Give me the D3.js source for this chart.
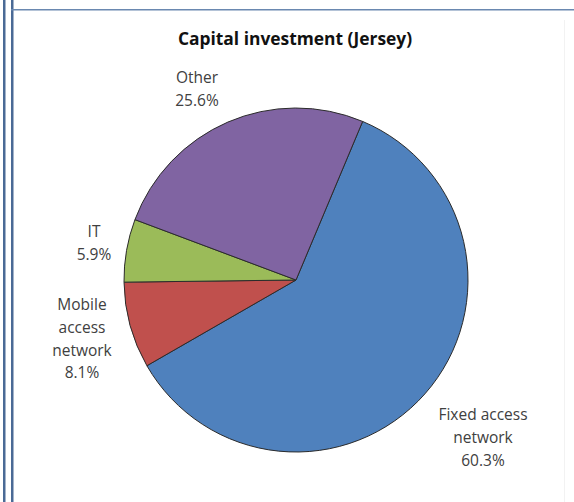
<!DOCTYPE html>
<html>
<head>
<meta charset="utf-8">
<script src="https://cdn.jsdelivr.net/npm/d3@7"></script>
<style>
  html, body { margin: 0; padding: 0; background: #fff; }
  svg { display: block; }
</style>
</head>
<body>
<svg id="chart" width="574" height="502"></svg>
<script>
// Capital investment shares for Jersey
const categories = ["Fixed access network", "Mobile access network", "IT", "Other"];
const shares = [60.3, 8.1, 5.9, 25.6];
const labelLines = [["Fixed access", "network"], ["Mobile", "access", "network"], ["IT"], ["Other"]];
const sliceColors = ["#4F81BD", "#C0504D", "#9BBB59", "#8064A2"];

const svg = d3.select("#chart");
const W = 574, H = 502;

// Document frame: double rule on the left, single rule across the top
const frame = svg.append("g");
frame.append("rect").attr("x", 3).attr("y", 0).attr("width", 2.5).attr("height", H).attr("fill", "#4a6a96");
frame.append("rect").attr("x", 11).attr("y", 0).attr("width", 2.5).attr("height", H).attr("fill", "#4a6a96");
frame.append("rect").attr("x", 11).attr("y", 9).attr("width", W - 11).attr("height", 1.5).attr("fill", "#6a88b0");
frame.append("rect").attr("x", 564).attr("y", 20).attr("width", 1).attr("height", H - 20).attr("fill", "#f2f2f2");

svg.append("text")
  .attr("x", 295).attr("y", 45)
  .attr("text-anchor", "middle")
  .attr("font-family", "'Open Sans', 'Liberation Sans', sans-serif")
  .attr("font-weight", "bold")
  .attr("font-size", 17.4)
  .attr("fill", "#111")
  .text("Capital investment (Jersey)");

const cx = 296, cy = 280, R = 172;
const startDeg = 22.8;

const pie = d3.pie().sort(null).value(d => d)
  .startAngle(startDeg * Math.PI / 180)
  .endAngle((startDeg + 360) * Math.PI / 180);
const arcs = pie(shares);
const arc = d3.arc().innerRadius(0).outerRadius(R);

const g = svg.append("g").attr("transform", `translate(${cx},${cy})`);
g.selectAll("path").data(arcs).join("path")
  .attr("d", arc)
  .attr("fill", (d, i) => sliceColors[i])
  .attr("stroke", "#2b2b2b")
  .attr("stroke-width", 1);

// Label anchor positions (baseline of first line) for each slice
const labelPos = [[483, 420], [82, 310], [94, 237], [197, 83]];
const lineH = 22.8;
const labels = svg.append("g")
  .attr("font-family", "'Open Sans', 'Liberation Sans', sans-serif")
  .attr("font-size", 15.5)
  .attr("fill", "#404040")
  .attr("text-anchor", "middle");

arcs.forEach((a, i) => {
  const lines = labelLines[i].concat([shares[i].toFixed(1) + "%"]);
  const t = labels.append("text");
  lines.forEach((ln, k) => {
    t.append("tspan")
      .attr("x", labelPos[i][0])
      .attr("y", labelPos[i][1] + k * lineH)
      .text(ln);
  });
});
</script>
</body>
</html>
